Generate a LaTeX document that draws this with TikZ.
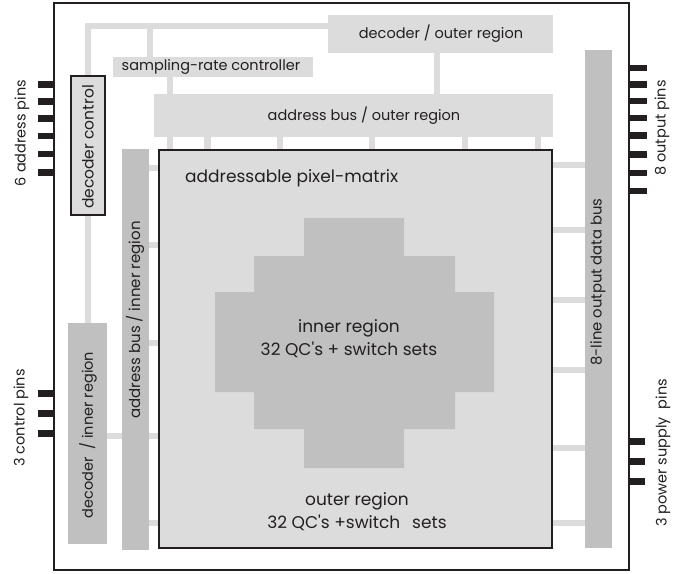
\documentclass[tikz,border=0pt]{standalone}
\usepackage{fontspec}
\setmainfont{Poppins}
\usetikzlibrary{backgrounds}
\definecolor{lightg}{HTML}{DCDCDC}
\definecolor{darkg}{HTML}{C0C0C0}
\definecolor{ink}{HTML}{231F20}
\begin{document}
\begin{tikzpicture}[x=1pt,y=-1pt,
  box/.style={anchor=north west, inner sep=0pt, outer sep=0pt, rectangle},
  lbox/.style={box, fill=lightg},
  dbox/.style={box, fill=darkg},
  conn/.style={draw=lightg, line width=6.5pt},
  lbl/.style={font=\fontsize{14.5}{21}\selectfont, text=ink, inner sep=0pt},
  biglbl/.style={lbl, font=\fontsize{17}{23}\selectfont},
  pinbar/.style={fill=ink}]
\useasboundingbox (0,0) rectangle (693,573);
% boxes
\node[box, draw=ink, line width=2pt, minimum width=575pt, minimum height=567pt] (chip) at (54,3) {};
\node[lbox, minimum width=225pt, minimum height=38pt] (decout) at (328,15) {};
\node[lbox, minimum width=200pt, minimum height=20pt] (samp) at (113,57) {};
\node[lbox, minimum width=399pt, minimum height=43pt] (addrbus) at (154,94) {};
\node[lbox, draw=ink, line width=1.5pt, minimum width=393pt, minimum height=398pt] (matrix) at (159,150) {};
\node[dbox, minimum width=27pt, minimum height=401pt] (ibus) at (122,149) {};
\node[lbox, draw=ink, line width=1.5pt, minimum width=34pt, minimum height=139pt] (dctrl) at (71,76) {};
\node[dbox, minimum width=39pt, minimum height=221pt] (decin) at (68,323) {};
\node[dbox, minimum width=27pt, minimum height=498pt] (databus) at (585,50) {};
% inner region cross
\fill[darkg] (304,218) -- (404,218) -- (404,256) -- (455,256) -- (455,292) -- (494,292)
  -- (494,392) -- (455,392) -- (455,429) -- (404,429) -- (404,468) -- (304,468)
  -- (304,429) -- (254,429) -- (254,392) -- (215,392) -- (215,292) -- (254,292)
  -- (254,256) -- (304,256) -- cycle;
% connectors
\coordinate (tl) at (150,26);
\begin{scope}[on background layer]
  \draw[conn] (dctrl.north) |- (decout.west |- tl);
  \draw[conn] (samp.north -| tl) -- (tl);
  \draw[conn] (samp.south -| 170,0) -- (addrbus.north -| 170,0);
  \draw[conn] (decout.south -| 437,0) -- (addrbus.north -| 437,0);
  \foreach \x in {170,207.5,280,372,465,538}
    \draw[conn] (addrbus.south -| \x,0) -- (matrix.north -| \x,0);
  \foreach \y in {168,245,343,436,523}
    \draw[conn] (ibus.east |- 0,\y) -- (matrix.west |- 0,\y);
  \draw[conn] (decin.east |- 0,436) -- (ibus.west |- 0,436);
  \draw[conn] (dctrl.south) -- (decin.north -| dctrl.south);
  \foreach \y in {165,230,300,370,448,523}
    \draw[conn] (matrix.east |- 0,\y) -- (databus.west |- 0,\y);
\end{scope}
% pins
\foreach \y in {84.5,101.5,118.5,136,154,172.5}
  \fill[pinbar] (38,\y-3.2) rectangle (54,\y+3.2);
\foreach \y in {393,413,433.5}
  \fill[pinbar] (38,\y-3.5) rectangle (54,\y+3.5);
\foreach \y in {68,84.5,101,118,135.5,154.5,173,191}
  \fill[pinbar] (629,\y-3.2) rectangle (647,\y+3.2);
\foreach \y in {441,461,481.5}
  \fill[pinbar] (629,\y-3.5) rectangle (645,\y+3.5);
% labels
\node[lbl] (tdecout) at (441,34) {decoder / outer region};
\node[lbl] (tsamp) at (211,67) {sampling-rate controller};
\node[lbl] (taddrbus) at (364,116) {address bus / outer region};
\node[biglbl, anchor=west] (tmatrix) at (185,178) {addressable pixel-matrix};
\node[biglbl, align=center] (tinner) at (349,338.5) {inner region\\32 QC\textquotesingle s + switch sets};
\node[biglbl, align=center] (touter) at (357,511.5) {outer region\\32 QC\textquotesingle s +switch\hspace{0.7em}sets};
\node[lbl, rotate=90, font=\fontsize{15.5}{18}\selectfont] (tdctrl) at (88,147) {decoder control};
\node[lbl, rotate=90] (tdecin) at (88,435) {decoder\ \ / inner region};
\node[lbl, rotate=90, font=\fontsize{15}{18}\selectfont] (tibus) at (135,320) {address bus / inner region};
\node[lbl, rotate=90, font=\fontsize{14.8}{18}\selectfont] (tdatabus) at (598,282) {8-line output data bus};
\node[lbl, rotate=90] (taddrpins) at (22,133) {6 address pins};
\node[lbl, rotate=90] (tctrlpins) at (21,418) {3 control pins};
\node[lbl, rotate=90] (toutpins) at (662,128) {8 output pins};
\node[lbl, rotate=90] (tpowpins) at (663,453) {3 power supply\ \ pins};
\end{tikzpicture}
\end{document}
